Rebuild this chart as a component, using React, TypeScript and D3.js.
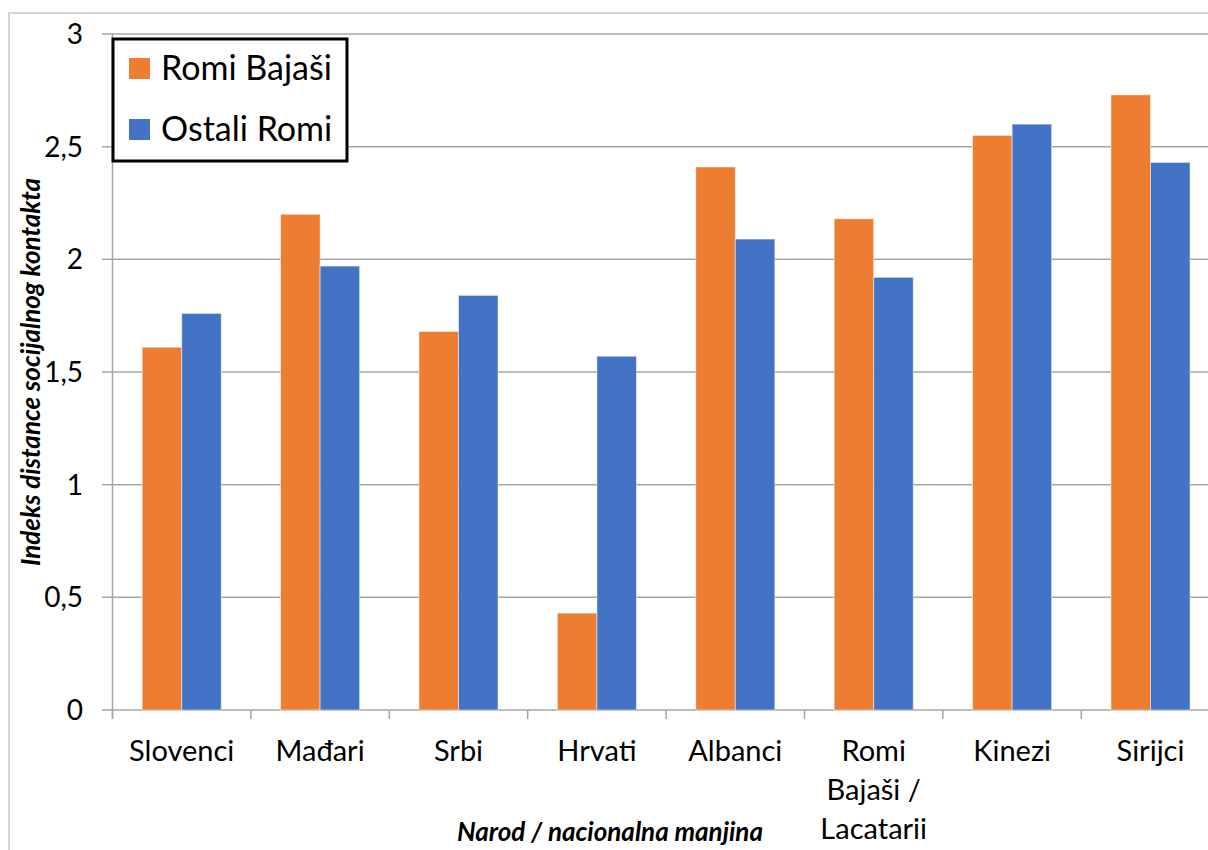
import * as d3 from "d3";

// Data
const categories = [
  "Slovenci",
  "Mađari",
  "Srbi",
  "Hrvati",
  "Albanci",
  "Romi Bajaši / Lacatarii",
  "Kinezi",
  "Sirijci",
];
const categoryLines: string[][] = [
  ["Slovenci"],
  ["Mađari"],
  ["Srbi"],
  ["Hrvati"],
  ["Albanci"],
  ["Romi", "Bajaši /", "Lacatarii"],
  ["Kinezi"],
  ["Sirijci"],
];
const seriesNames = ["Romi Bajaši", "Ostali Romi"];
const romiBajasi = [1.61, 2.2, 1.68, 0.43, 2.41, 2.18, 2.55, 2.73];
const ostaliRomi = [1.76, 1.97, 1.84, 1.57, 2.09, 1.92, 2.6, 2.43];
const yTicks = [0, 0.5, 1, 1.5, 2, 2.5, 3];
const yTickLabels = ["0", "0,5", "1", "1,5", "2", "2,5", "3"];

const colors = ["#ED7D31", "#4472C4"];
const font = "Lato, 'Open Sans', sans-serif";

const W = 1208;
const H = 850;
const plot = { left: 112.5, top: 34, bottom: 710, step: 138.4 };

export default function App() {
  const values = [romiBajasi, ostaliRomi];

  const x0 = d3
    .scaleBand<string>()
    .domain(categories)
    .range([plot.left, plot.left + plot.step * categories.length])
    .padding(0);

  // gap width 150% -> 0.75 bar width on each side of the pair
  const x1 = d3
    .scaleBand<string>()
    .domain(seriesNames)
    .range([0, x0.step()])
    .paddingInner(0)
    .paddingOuter(0.75);

  const y = d3.scaleLinear().domain([0, 3]).range([plot.bottom, plot.top]);

  const boundaries = d3.range(categories.length + 1).map((i) => plot.left + i * x0.step());

  return (
    <div style={{ position: "absolute", left: 0, top: 0, background: "#fff" }}>
      <svg width={W} height={H} style={{ display: "block" }} fontFamily={font}>
        <rect width={W} height={H} fill="#fff" />
        {/* chart border, cropped by the picture edge */}
        <rect x={9} y={13} width={W + 20} height={H + 20} fill="none" stroke="#c9c9c9" strokeWidth={1.5} />

        {/* gridlines */}
        {yTicks.map((t) => (
          <line key={t} x1={102} x2={W} y1={y(t)} y2={y(t)} stroke="#a6a6a6" strokeWidth={1.5} />
        ))}

        {/* bars */}
        {categories.map((c, i) => (
          <g key={c} transform={`translate(${x0(c)},0)`}>
            {seriesNames.map((s, j) => (
              <rect
                key={s}
                x={x1(s)}
                y={y(values[j][i])}
                width={x1.bandwidth()}
                height={y(0) - y(values[j][i])}
                fill={colors[j]}
                stroke="#ffffff"
                strokeOpacity={0.5}
                strokeWidth={1}
              />
            ))}
          </g>
        ))}

        {/* axes */}
        <line x1={plot.left} x2={plot.left} y1={plot.top} y2={plot.bottom + 9} stroke="#a6a6a6" strokeWidth={1.5} />
        {boundaries.map((bx, i) => (
          <line key={i} x1={bx} x2={bx} y1={plot.bottom} y2={plot.bottom + 9} stroke="#a6a6a6" strokeWidth={1.5} />
        ))}

        {/* y tick labels */}
        {yTicks.map((t, i) => (
          <text key={t} x={83} y={y(t)} dy="0.36em" textAnchor="end" fontSize={28} fill="#000">
            {yTickLabels[i]}
          </text>
        ))}

        {/* category labels */}
        {categories.map((c, i) => (
          <text key={c} x={(x0(c) ?? 0) + x0.bandwidth() / 2} y={761} textAnchor="middle" fontSize={29} fill="#000">
            {categoryLines[i].map((line, k) => (
              <tspan key={k} x={(x0(c) ?? 0) + x0.bandwidth() / 2} dy={k === 0 ? 0 : 39}>
                {line}
              </tspan>
            ))}
          </text>
        ))}

        {/* axis titles */}
        <text
          transform={`translate(40,${(plot.top + plot.bottom) / 2}) rotate(-90)`}
          textAnchor="middle"
          fontSize={26}
          fontWeight="bold"
          fontStyle="italic"
          fill="#000"
        >
          Indeks distance socijalnog kontakta
        </text>
        <text x={610} y={841} textAnchor="middle" fontSize={26} fontWeight="bold" fontStyle="italic" fill="#000">
          Narod / nacionalna manjina
        </text>

        {/* legend */}
        <rect x={113} y={39} width={234} height={122} fill="#fff" stroke="#000" strokeWidth={3} />
        {seriesNames.map((s, j) => (
          <g key={s} transform={`translate(0,${j * 61})`}>
            <rect x={129} y={58} width={21} height={21} fill={colors[j]} />
            <text x={161} y={80} fontSize={34} fill="#000">
              {s}
            </text>
          </g>
        ))}
      </svg>
    </div>
  );
}
